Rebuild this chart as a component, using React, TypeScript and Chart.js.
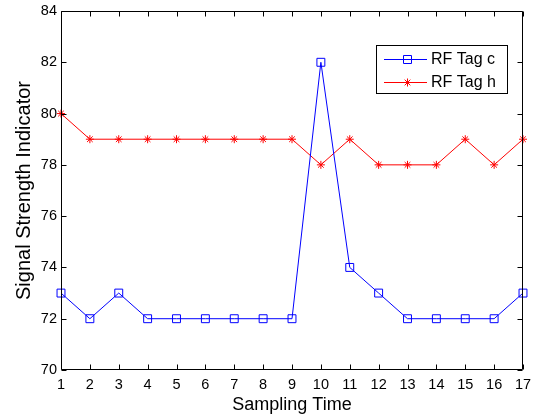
import { useEffect, useRef } from 'react';
import { Chart, registerables } from 'chart.js';

Chart.register(...registerables);

const samplingTimes = ['1', '2', '3', '4', '5', '6', '7', '8', '9', '10', '11', '12', '13', '14', '15', '16', '17'];
const tagC = [73, 72, 73, 72, 72, 72, 72, 72, 72, 82, 74, 73, 72, 72, 72, 72, 73];
const tagH = [80, 79, 79, 79, 79, 79, 79, 79, 79, 78, 79, 78, 78, 78, 79, 78, 79];
const seriesNames = ['RF Tag c', 'RF Tag h'];
const seriesColors = ['#0000ff', '#ff0000'];
const yTicks = [70, 72, 74, 76, 78, 80, 82, 84];
const xTitle = 'Sampling Time';
const yTitle = 'Signal Strength Indicator';

const FONT = '"Liberation Sans", Arial, Helvetica, sans-serif';

const framePlugin = {
  id: 'matlabFrame',
  afterDatasetsDraw(chart: any) {
    const { ctx, chartArea: a, scales } = chart;
    const L = Math.round(a.left) + 0.5;
    const R = Math.round(a.right) - 0.5;
    const T = Math.round(a.top) + 0.5;
    const B = Math.round(a.bottom) - 0.5;
    ctx.save();
    ctx.strokeStyle = '#000';
    ctx.lineWidth = 1;
    ctx.beginPath();
    ctx.rect(L, T, R - L, B - T);
    const tl = 5;
    samplingTimes.forEach((_, i) => {
      const px = Math.round(scales.x.getPixelForTick(i)) + 0.5;
      ctx.moveTo(px, B);
      ctx.lineTo(px, B - tl);
      ctx.moveTo(px, T);
      ctx.lineTo(px, T + tl);
    });
    yTicks.forEach((v) => {
      const py = Math.round(scales.y.getPixelForValue(v)) + 0.5;
      ctx.moveTo(L, py);
      ctx.lineTo(L + tl, py);
      ctx.moveTo(R, py);
      ctx.lineTo(R - tl, py);
    });
    ctx.stroke();

    // legend box
    const lx = 376.5, ly = 45.5, lw = 131, lh = 48;
    ctx.fillStyle = '#fff';
    ctx.fillRect(lx, ly, lw, lh);
    ctx.strokeRect(lx, ly, lw, lh);
    const rows = [59.5, 82.5];
    seriesNames.forEach((name, i) => {
      const y = rows[i];
      ctx.strokeStyle = seriesColors[i];
      ctx.lineWidth = 1;
      ctx.beginPath();
      ctx.moveTo(384, y);
      ctx.lineTo(427, y);
      ctx.stroke();
      const mx = 407.5;
      ctx.beginPath();
      if (i === 0) {
        ctx.rect(mx - 4, y - 4, 8, 8);
      } else {
        const r = 4;
        ctx.moveTo(mx, y - r); ctx.lineTo(mx, y + r);
        ctx.moveTo(mx - r, y); ctx.lineTo(mx + r, y);
        const d = r * Math.SQRT1_2;
        ctx.moveTo(mx - d, y - d); ctx.lineTo(mx + d, y + d);
        ctx.moveTo(mx - d, y + d); ctx.lineTo(mx + d, y - d);
      }
      ctx.stroke();
      ctx.fillStyle = '#000';
      ctx.font = `16px ${FONT}`;
      ctx.textBaseline = 'middle';
      ctx.textAlign = 'left';
      ctx.fillText(name, 431, y);
    });
    ctx.restore();
  },
};

export default function App() {
  const ref = useRef<HTMLCanvasElement | null>(null);

  useEffect(() => {
    document.body.style.margin = '0';
    const canvas = ref.current;
    if (!canvas) return;
    const chart = new Chart(canvas, {
      type: 'line',
      data: {
        labels: samplingTimes,
        datasets: [
          {
            label: seriesNames[0],
            data: tagC,
            borderColor: seriesColors[0],
            backgroundColor: 'rgba(0,0,0,0)',
            borderWidth: 1,
            pointStyle: 'rect',
            pointRadius: 5.6,
            pointBorderWidth: 1,
            pointBorderColor: seriesColors[0],
            pointBackgroundColor: 'rgba(0,0,0,0)',
            tension: 0,
            clip: false as any,
          },
          {
            label: seriesNames[1],
            data: tagH,
            borderColor: seriesColors[1],
            backgroundColor: 'rgba(0,0,0,0)',
            borderWidth: 1,
            pointStyle: 'star',
            pointRadius: 4,
            pointBorderWidth: 1,
            pointBorderColor: seriesColors[1],
            pointBackgroundColor: seriesColors[1],
            tension: 0,
            clip: false as any,
          },
        ],
      },
      options: {
        animation: false,
        responsive: false,
        maintainAspectRatio: false,
        layout: { padding: { left: 0, top: 11, right: 15, bottom: 0 } },
        plugins: {
          legend: { display: false },
          tooltip: { enabled: false },
        },
        scales: {
          x: {
            type: 'category',
            offset: false,
            grid: { display: false, drawTicks: false },
            border: { display: false },
            ticks: {
              color: '#000',
              font: { family: FONT, size: 14.5 },
              padding: 6,
              maxRotation: 0,
              autoSkip: false,
            },
            title: {
              display: true,
              text: xTitle,
              color: '#000',
              font: { family: FONT, size: 18 },
              padding: { top: 0, bottom: 3 },
            },
            afterFit(s: any) {
              s.height = 49;
              s.paddingLeft = 0;
              s.paddingRight = 0;
            },
          },
          y: {
            min: 70,
            max: 84,
            grid: { display: false, drawTicks: false },
            border: { display: false },
            afterBuildTicks(s: any) {
              s.ticks = yTicks.map((v) => ({ value: v }));
            },
            ticks: {
              color: '#000',
              font: { family: FONT, size: 14.5 },
              padding: 4,
            },
            title: {
              display: true,
              text: yTitle,
              color: '#000',
              font: { family: FONT, size: 20 },
              padding: { top: 12, bottom: 0 },
            },
            afterFit(s: any) {
              s.width = 61;
              s.paddingTop = 0;
              s.paddingBottom = 0;
            },
          },
        },
      },
      plugins: [framePlugin],
    });
    return () => chart.destroy();
  }, []);

  return (
    <div style={{ width: 538, height: 419, position: 'relative' }}>
      <canvas ref={ref} width={538} height={419} style={{ display: 'block' }} />
    </div>
  );
}
